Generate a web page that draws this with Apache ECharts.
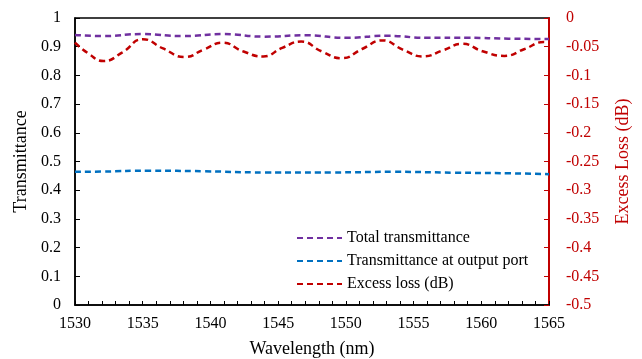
<!DOCTYPE html>
<html><head><meta charset="utf-8">
<script src="https://cdn.jsdelivr.net/npm/echarts@6/dist/echarts.min.js"></script>
<style>html,body{margin:0;padding:0;background:#fff}#c{width:642px;height:359px}</style>
</head><body><div id="c"></div>
<script>
const totalX = [1530, 1532, 1535, 1538, 1541, 1544, 1547, 1550, 1553, 1556, 1559, 1562, 1565];
const totalY = [0.941, 0.937, 0.944, 0.937, 0.944, 0.935, 0.940, 0.931, 0.938, 0.931, 0.931, 0.928, 0.927];
const outX = [1530, 1532, 1535.5, 1539.5, 1544, 1549, 1553.5, 1558, 1562, 1565];
const outY = [0.464, 0.465, 0.468, 0.466, 0.462, 0.462, 0.464, 0.461, 0.459, 0.456];
const lossX = [1530, 1531, 1532.1, 1533.5, 1535.0, 1536.5, 1538.1, 1539.5, 1540.9, 1542.4, 1543.9, 1545.3, 1546.7, 1548.2, 1549.7, 1551.2, 1552.7, 1554.2, 1555.7, 1557.2, 1558.6, 1560.1, 1561.7, 1563.2, 1564.6, 1565];
const lossY = [-0.043, -0.062, -0.075, -0.060, -0.037, -0.053, -0.068, -0.055, -0.043, -0.058, -0.067, -0.052, -0.041, -0.058, -0.070, -0.054, -0.039, -0.055, -0.067, -0.056, -0.045, -0.058, -0.066, -0.054, -0.042, -0.043];
const names = ['Total transmittance', 'Transmittance at output port', 'Excess loss (dB)'];
const colors = ['#7030A0', '#0070C0', '#C00000'];

const zip = (a, b) => a.map((v, i) => [v, b[i]]);
const font = 'Liberation Serif';
const chart = echarts.init(document.getElementById('c'));
const mk = (i, x, y, axis) => ({
  name: names[i], type: 'line', yAxisIndex: axis, data: zip(x, y), smooth: 0.5,
  symbol: 'none', color: colors[i],
  lineStyle: { color: colors[i], width: 2.5, type: [6, 4] }
});
chart.setOption({
  animation: false,
  textStyle: { fontFamily: font },
  grid: { left: 75, right: 93, top: 18, bottom: 54, show: true, borderColor: '#000', borderWidth: 1.5,
    containLabel: false, outerBoundsMode: 'none' },
  legend: {
    orient: 'vertical', left: 291, top: 225, itemWidth: 45, itemHeight: 14, itemGap: 7,
    itemStyle: { opacity: 0 },
    textStyle: { fontFamily: font, fontSize: 16, color: '#000' },
    data: names
  },
  xAxis: {
    type: 'value', min: 1530, max: 1565, interval: 5,
    name: 'Wavelength (nm)', nameLocation: 'middle', nameGap: 35,
    nameTextStyle: { fontFamily: font, fontSize: 18, color: '#000' },
    axisLine: { lineStyle: { color: '#000', width: 1.5 } },
    axisTick: { inside: true, length: 4, lineStyle: { color: '#000' } },
    minorTick: { show: true, splitNumber: 5, length: 4, lineStyle: { color: '#000' } },
    axisLabel: { fontFamily: font, fontSize: 16, color: '#000', margin: 11, formatter: v => String(v) },
    splitLine: { show: false }
  },
  yAxis: [{
    type: 'value', min: 0, max: 1, interval: 0.1,
    name: 'Transmittance', nameLocation: 'middle', nameGap: 33,
    nameTextStyle: { fontFamily: font, fontSize: 18, color: '#000' },
    axisLine: { show: true, lineStyle: { color: '#000', width: 1.5 } },
    axisTick: { show: true, inside: true, length: 5, lineStyle: { color: '#000' } },
    axisLabel: { fontFamily: font, fontSize: 16, color: '#000', margin: 14 },
    splitLine: { show: false }
  }, {
    type: 'value', min: -0.5, max: 0, interval: 0.05, position: 'right',
    name: 'Excess Loss (dB)', nameLocation: 'middle', nameGap: 65,
    nameTextStyle: { fontFamily: font, fontSize: 18, color: '#C00000' },
    axisLine: { show: true, lineStyle: { color: '#C00000', width: 2 } },
    axisTick: { show: true, inside: true, length: 5, lineStyle: { color: '#C00000' } },
    axisLabel: { fontFamily: font, fontSize: 16, color: '#C00000', margin: 17 },
    splitLine: { show: false }
  }],
  series: [mk(0, totalX, totalY, 0), mk(1, outX, outY, 0), mk(2, lossX, lossY, 1)]
});
</script></body></html>
